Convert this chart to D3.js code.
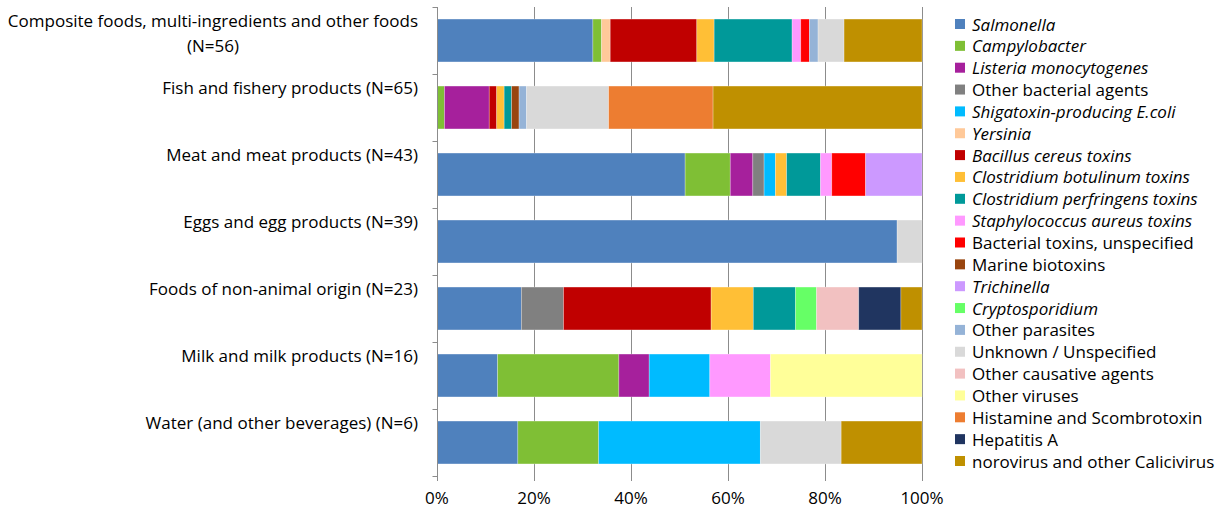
<!DOCTYPE html>
<html>
<head>
<meta charset="utf-8">
<script src="https://cdn.jsdelivr.net/npm/d3@7"></script>
<style>
  body { margin: 0; background: #fff; }
  svg text { font-family: "Open Sans", Lato, sans-serif; fill: #000; }
</style>
</head>
<body>
<script>
// food vehicle categories (top to bottom)
const categories = [
    "Composite foods, multi-ingredients and other foods (N=56)",
    "Fish and fishery products (N=65)",
    "Meat and meat products (N=43)",
    "Eggs and egg products (N=39)",
    "Foods of non-animal origin (N=23)",
    "Milk and milk products (N=16)",
    "Water (and other beverages) (N=6)"
];

// outbreak counts per agent, in category order
const salmonella      = [18, 0, 22, 37, 4, 2, 1];
const campylobacter   = [1, 1, 4, 0, 0, 4, 1];
const listeria        = [0, 6, 2, 0, 0, 1, 0];
const otherBacterial  = [0, 0, 1, 0, 2, 0, 0];
const stec            = [0, 0, 1, 0, 0, 2, 2];
const yersinia        = [1, 0, 0, 0, 0, 0, 0];
const bacillus        = [10, 1, 0, 0, 7, 0, 0];
const botulinum       = [2, 1, 1, 0, 2, 0, 0];
const perfringens     = [9, 1, 3, 0, 2, 0, 0];
const staphylococcus  = [1, 0, 1, 0, 0, 2, 0];
const bacterialToxins = [1, 0, 3, 0, 0, 0, 0];
const marineBiotoxins = [0, 1, 0, 0, 0, 0, 0];
const trichinella     = [0, 0, 5, 0, 0, 0, 0];
const cryptosporidium = [0, 0, 0, 0, 1, 0, 0];
const otherParasites  = [1, 1, 0, 0, 0, 0, 0];
const unknown         = [3, 11, 0, 2, 0, 0, 1];
const otherCausative  = [0, 0, 0, 0, 2, 0, 0];
const otherViruses    = [0, 0, 0, 0, 0, 5, 0];
const histamine       = [0, 14, 0, 0, 0, 0, 0];
const hepatitisA      = [0, 0, 0, 0, 2, 0, 0];
const norovirus       = [9, 28, 0, 0, 1, 0, 1];

const agentNames = [
    "Salmonella", "Campylobacter", "Listeria monocytogenes", "Other bacterial agents",
    "Shigatoxin-producing E.coli", "Yersinia", "Bacillus cereus toxins",
    "Clostridium botulinum toxins", "Clostridium perfringens toxins",
    "Staphylococcus aureus toxins", "Bacterial toxins, unspecified", "Marine biotoxins",
    "Trichinella", "Cryptosporidium", "Other parasites", "Unknown / Unspecified",
    "Other causative agents", "Other viruses", "Histamine and Scombrotoxin",
    "Hepatitis A", "norovirus and other Calicivirus"
];
const agentValues = [
    salmonella, campylobacter, listeria, otherBacterial, stec, yersinia, bacillus,
    botulinum, perfringens, staphylococcus, bacterialToxins, marineBiotoxins,
    trichinella, cryptosporidium, otherParasites, unknown, otherCausative,
    otherViruses, histamine, hepatitisA, norovirus
];
const italicAgents = [true, true, true, false, true, true, true, true, true, true,
    false, false, true, true, false, false, false, false, false, false, false];
const agentColors = [
    "#4f81bd", "#7fbf35", "#a6209c", "#808080", "#00bbff", "#ffc999", "#c00000",
    "#ffbf36", "#009999", "#ff99ff", "#ff0000", "#99450f", "#cc99ff", "#66ff66",
    "#95b3d7", "#d9d9d9", "#f2c1c1", "#ffff99", "#ed7d31", "#203560", "#bf9000"
];
const xTicks = [0, 0.2, 0.4, 0.6, 0.8, 1];

const width = 1216, height = 513;
const plot = {left: 437, right: 922, top: 7, bottom: 476};
const fontSize = "17px";

// one row per category, one key per agent
let rows = categories.map((c, i) => {
    let row = {category: c};
    agentNames.forEach((a, j) => row[a] = agentValues[j][i]);
    return row;
});

let stack = d3.stack()
    .keys(agentNames)
    .offset(d3.stackOffsetExpand);
let series = stack(rows);

let xScale = d3.scaleLinear()
    .domain([0, 1])
    .range([plot.left, plot.right]);
let yScale = d3.scaleBand()
    .domain(categories)
    .range([plot.top, plot.bottom])
    .paddingInner(0.36)
    .paddingOuter(0.18);
let color = d3.scaleOrdinal()
    .domain(agentNames)
    .range(agentColors);

let svg = d3.select("body")
    .append("svg")
        .attr("width", width)
        .attr("height", height);

// vertical gridlines
svg.append("g")
    .selectAll("line")
    .data(xTicks.slice(1))
    .enter()
    .append("line")
        .attr("x1", d => Math.round(xScale(d)) + 0.5)
        .attr("x2", d => Math.round(xScale(d)) + 0.5)
        .attr("y1", plot.top)
        .attr("y2", plot.bottom)
        .attr("stroke", "#8c8c8c");

// stacked bars
svg.append("g")
    .selectAll("g")
    .data(series)
    .enter()
    .append("g")
        .attr("fill", d => color(d.key))
    .selectAll("rect")
    .data(d => d)
    .enter()
    .append("rect")
        .attr("x", d => xScale(d[0]))
        .attr("y", d => yScale(d.data.category))
        .attr("width", d => xScale(d[1]) - xScale(d[0]))
        .attr("height", yScale.bandwidth())
        .attr("stroke", "#ffffff")
        .attr("stroke-opacity", 0.35)
        .attr("stroke-width", 0.75);

// category axis line + ticks
let axisX = Math.round(plot.left) + 0.5;
svg.append("line")
    .attr("x1", axisX).attr("x2", axisX)
    .attr("y1", plot.top).attr("y2", plot.bottom)
    .attr("stroke", "#8c8c8c");
let step = yScale.step();
svg.append("g")
    .selectAll("line")
    .data(d3.range(categories.length + 1))
    .enter()
    .append("line")
        .attr("x1", axisX - 5)
        .attr("x2", axisX)
        .attr("y1", i => Math.round(plot.top + i * step) + 0.5)
        .attr("y2", i => Math.round(plot.top + i * step) + 0.5)
        .attr("stroke", "#8c8c8c");

// value axis ticks + labels
svg.append("g")
    .selectAll("line")
    .data(xTicks)
    .enter()
    .append("line")
        .attr("x1", d => Math.round(xScale(d)) + 0.5)
        .attr("x2", d => Math.round(xScale(d)) + 0.5)
        .attr("y1", plot.bottom)
        .attr("y2", plot.bottom + 5)
        .attr("stroke", "#8c8c8c");
svg.append("g")
    .selectAll("text")
    .data(xTicks)
    .enter()
    .append("text")
        .attr("x", d => xScale(d))
        .attr("y", plot.bottom + 21)
        .attr("text-anchor", "middle")
        .attr("dominant-baseline", "central")
        .style("font-size", fontSize)
        .text(d3.format(".0%"));

// category labels, sitting near the top of each band
let labelX = 418;
categories.forEach((c, i) => {
    let bandTop = plot.top + i * step;
    if (i === 0) {
        let first = svg.append("text")
            .attr("x", labelX)
            .attr("y", bandTop + 13)
            .attr("text-anchor", "end")
            .attr("dominant-baseline", "central")
            .style("font-size", fontSize)
            .text("Composite foods, multi-ingredients and other foods");
        let w = first.node().getComputedTextLength();
        svg.append("text")
            .attr("x", labelX - w / 2)
            .attr("y", bandTop + 38)
            .attr("text-anchor", "middle")
            .attr("dominant-baseline", "central")
            .style("font-size", fontSize)
            .text("(N=56)");
    } else {
        svg.append("text")
            .attr("x", labelX)
            .attr("y", bandTop + 13)
            .attr("text-anchor", "end")
            .attr("dominant-baseline", "central")
            .style("font-size", fontSize)
            .text(c);
    }
});

// legend
let legend = svg.append("g")
    .selectAll("g")
    .data(agentNames)
    .enter()
    .append("g")
        .attr("transform", (d, i) => "translate(955, " + (24 + i * 21.85) + ")");
legend.append("rect")
    .attr("x", 0)
    .attr("y", -5)
    .attr("width", 10)
    .attr("height", 10)
    .attr("fill", d => color(d));
legend.append("text")
    .attr("x", 17)
    .attr("y", 0)
    .attr("dominant-baseline", "central")
    .style("font-size", fontSize)
    .style("font-style", (d, i) => italicAgents[i] ? "italic" : "normal")
    .text(d => d);
</script>
</body>
</html>
